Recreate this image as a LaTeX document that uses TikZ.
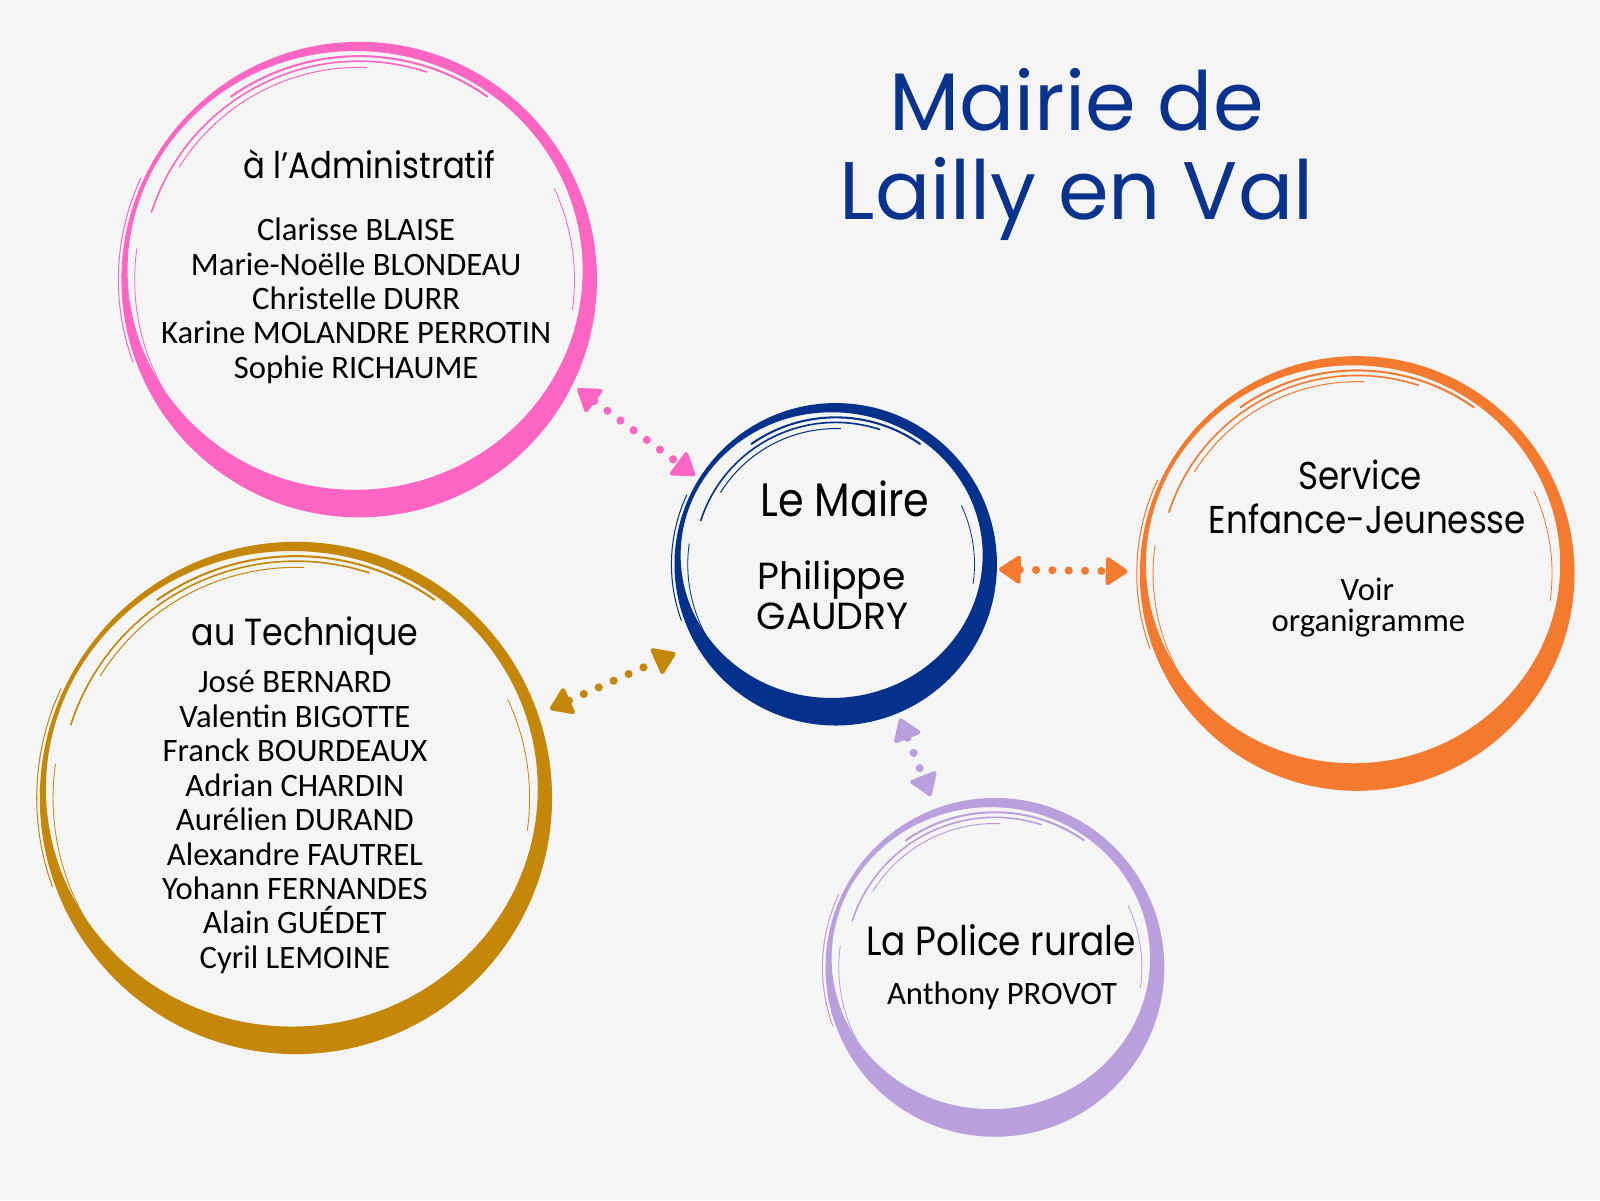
\documentclass[tikz,border=0pt]{standalone}
\usepackage{fontspec}
\usetikzlibrary{arrows.meta,calc}
\newfontfamily\titlef{Poppins}
\newfontfamily\headf[FakeStretch=0.88]{Poppins}
\newfontfamily\popf{Poppins}
\newfontfamily\namef{Carlito}
\definecolor{bgc}{HTML}{F5F5F5}
\definecolor{pinkc}{HTML}{FF66C4}
\definecolor{goldc}{HTML}{C4870A}
\definecolor{navyc}{HTML}{03318C}
\definecolor{orangec}{HTML}{F47A30}
\definecolor{lavc}{HTML}{B9A0DC}
\definecolor{titlec}{HTML}{0A338E}
\newcommand\brushring[5]{%
  \node[circle, inner sep=0pt, minimum size=#5*2pt] (#1) at (#3,#4) {};
  \fill[#2, even odd rule] (#3,#4) circle[radius=#5]
     (#3-4,#4-9) ellipse[x radius=#5-10, y radius=#5-18];
  \begin{scope}[draw=#2, line cap=round]
    \draw[line width=1.6pt] (#3,#4) ++(198:#5-19) arc[start angle=198, end angle=288, radius=#5-19];
    \draw[line width=1pt] (#3,#4) ++(212:#5-25) arc[start angle=212, end angle=272, radius=#5-25];
    \draw[line width=2pt] (#3,#4) ++(235:#5-14) arc[start angle=235, end angle=305, radius=#5-14];
    \draw[line width=0.8pt] (#3,#4) ++(150:#5-13) arc[start angle=150, end angle=188, radius=#5-13];
    \draw[line width=0.8pt] (#3,#4) ++(8:#5-22) arc[start angle=8, end angle=-25, radius=#5-22];
    \draw[line width=1pt] (#3,#4) ++(160:#5+3) arc[start angle=160, end angle=205, radius=#5+3];
  \end{scope}
}
\tikzset{
  titlet/.style={font=\titlef\fontsize{80}{90}\selectfont, text=titlec, anchor=base, inner sep=0pt},
  headt/.style={font=\headf\fontsize{38}{42}\selectfont, text=black, anchor=base, inner sep=0pt},
  mairet/.style={font=\popf\fontsize{37}{42}\selectfont, text=black, anchor=base, inner sep=0pt},
  namet/.style={font=\namef\fontsize{32}{36}\selectfont, text=black, anchor=base, inner sep=0pt},
  dotarrow/.style={line width=8pt, line cap=round, dash pattern=on 0pt off 16pt,
    arrows={Triangle[length=23pt,width=30pt,line width=4pt,round]-Triangle[length=23pt,width=30pt,line width=4pt,round]}},
}
\begin{document}
\begin{tikzpicture}[x=1pt,y=-1pt]
\useasboundingbox (0,0) rectangle (1568,1176);
\fill[bgc] (0,0) rectangle (1568,1176);

% rings
\brushring{pk}{pinkc}{352}{274}{233}
\brushring{gd}{goldc}{290}{782}{251}
\brushring{nv}{navyc}{819}{553}{158}
\brushring{or}{orangec}{1330}{562}{213}
\brushring{lv}{lavc}{975}{948}{166}

% title
\node[titlet] (t1) at (1055,128) {Mairie de};
\node[titlet] (t2) at (1055,215) {Lailly en Val};

% pink
\node[headt, font=\headf\fontsize{36}{40}\selectfont] (pkh) at (362,175) {à l’Administratif};
\foreach \t [count=\i] in {Clarisse BLAISE, Marie-Noëlle BLONDEAU, Christelle DURR, Karine MOLANDRE PERROTIN, Sophie RICHAUME}
  \node[namet] (pkn\i) at (349,202.3+33.7*\i) {\t};

% gold
\node[headt, font=\headf\fontsize{37}{40}\selectfont] (gdh) at (299,633) {au Technique};
\foreach \t [count=\i] in {José BERNARD, Valentin BIGOTTE, Franck BOURDEAUX, Adrian CHARDIN, Aurélien DURAND, Alexandre FAUTREL, Yohann FERNANDES, Alain GUÉDET, Cyril LEMOINE}
  \node[namet] (gdn\i) at (289,645.25+33.75*\i) {\t};

% navy
\node[headt, font=\headf\fontsize{46}{50}\selectfont] (nvh) at (828,506) {Le Maire};
\node[mairet] (nv1) at (815,578) {Philippe};
\node[mairet] (nv2) at (816,617) {GAUDRY};

% orange
\node[headt] (orh1) at (1333,480) {Service};
\node[headt] (orh2) at (1340,523) {Enfance-Jeunesse};
\node[namet] (or1) at (1340,588) {Voir};
\node[namet] (or2) at (1341,619) {organigramme};

% lavender
\node[headt, font=\headf\fontsize{40}{44}\selectfont] (lvh) at (981,936) {La Police rurale};
\node[namet] (lv1) at (982,984) {Anthony PROVOT};

% connectors
\coordinate (pkA) at (566,381); \coordinate (pkB) at (681,466);
\coordinate (gdA) at (539,695); \coordinate (gdB) at (662,640);
\coordinate (orA) at (979,558); \coordinate (orB) at (1105,560);
\coordinate (lvA) at (882,704); \coordinate (lvB) at (912,780);
\draw[dotarrow, pinkc] (pkA) -- (pkB);
\draw[dotarrow, goldc] (gdA) -- (gdB);
\draw[dotarrow, orangec] (orA) -- (orB);
\draw[dotarrow, lavc] (lvA) -- (lvB);
\end{tikzpicture}
\end{document}
